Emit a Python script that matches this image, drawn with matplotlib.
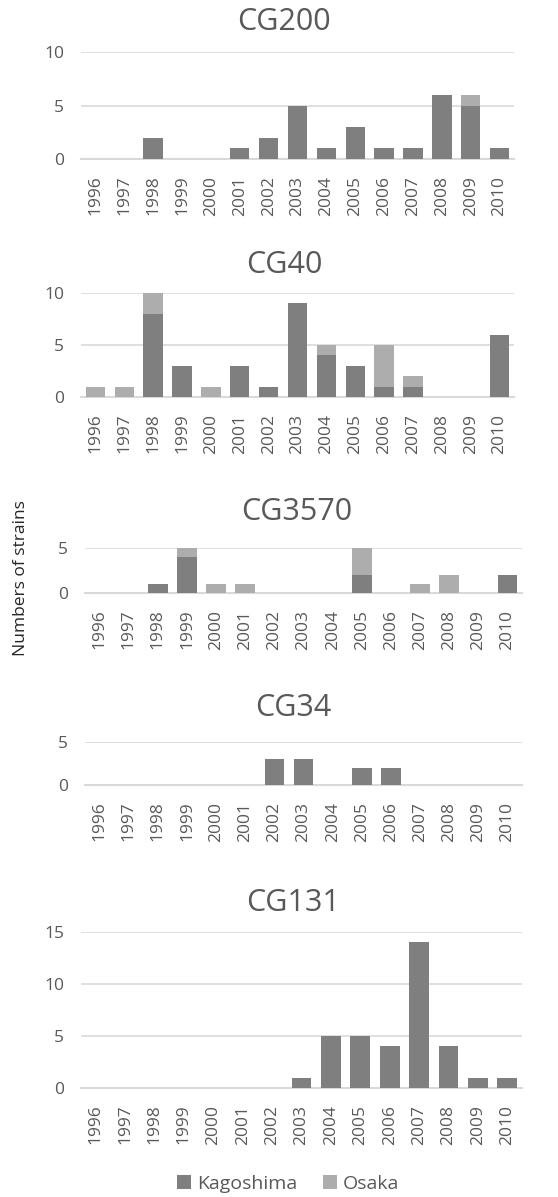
import matplotlib
matplotlib.use("Agg")
import matplotlib.pyplot as plt
from matplotlib.patches import Patch
import numpy as np

years = [str(y) for y in range(1996, 2011)]

titles = ["CG200", "CG40", "CG3570", "CG34", "CG131"]
kagoshima = {
    "CG200":  [0, 0, 2, 0, 0, 1, 2, 5, 1, 3, 1, 1, 6, 5, 1],
    "CG40":   [0, 0, 8, 3, 0, 3, 1, 9, 4, 3, 1, 1, 0, 0, 6],
    "CG3570": [0, 0, 1, 4, 0, 0, 0, 0, 0, 2, 0, 0, 0, 0, 2],
    "CG34":   [0, 0, 0, 0, 0, 0, 3, 3, 0, 2, 2, 0, 0, 0, 0],
    "CG131":  [0, 0, 0, 0, 0, 0, 0, 1, 5, 5, 4, 14, 4, 1, 1],
}
osaka = {
    "CG200":  [0, 0, 0, 0, 0, 0, 0, 0, 0, 0, 0, 0, 0, 1, 0],
    "CG40":   [1, 1, 2, 0, 1, 0, 0, 0, 1, 0, 4, 1, 0, 0, 0],
    "CG3570": [0, 0, 0, 1, 1, 1, 0, 0, 0, 3, 0, 1, 2, 0, 0],
    "CG34":   [0, 0, 0, 0, 0, 0, 0, 0, 0, 0, 0, 0, 0, 0, 0],
    "CG131":  [0, 0, 0, 0, 0, 0, 0, 0, 0, 0, 0, 0, 0, 0, 0],
}
ymax = {"CG200": 10, "CG40": 10, "CG3570": 5, "CG34": 5, "CG131": 15}

W, H = 558, 1197
DPI = 100
plt.rcParams['font.family'] = ['Open Sans', 'DejaVu Sans']

DARK = "#7f7f7f"
LIGHT = "#adadad"
GRID = "#d9d9d9"
TXT = "#595959"

fig = plt.figure(figsize=(W / DPI, H / DPI), dpi=DPI)

# pixel layout: (x0, x1, ytop, ybottom, title_x, title_y)
layout = {
    "CG200":  (81, 514, 52, 159, 284, 22),
    "CG40":   (81, 514, 293, 397, 284, 265),
    "CG3570": (85, 522, 548, 593, 297, 512),
    "CG34":   (85, 522, 742, 785, 293, 708),
    "CG131":  (81, 522, 932, 1088, 293, 903),
}

for name in titles:
    x0, x1, yt, yb, tx, ty = layout[name]
    ax = fig.add_axes([x0 / W, 1 - yb / H, (x1 - x0) / W, (yb - yt) / H])
    x = np.arange(len(years))
    k = np.array(kagoshima[name])
    o = np.array(osaka[name])
    ax.bar(x, k, width=0.67, color=DARK, linewidth=0, zorder=3)
    ax.bar(x, o, width=0.67, bottom=k, color=LIGHT, linewidth=0, zorder=3)
    ax.set_xlim(-0.5, len(years) - 0.5)
    ax.set_ylim(0, ymax[name])
    ax.set_yticks(np.arange(0, ymax[name] + 1, 5))
    ax.set_xticks(x)
    ax.set_xticklabels(years, rotation=90)
    for s in ax.spines.values():
        s.set_visible(False)
    ax.yaxis.grid(True, color=GRID, linewidth=1.2, zorder=0)
    ax.set_axisbelow(True)
    ax.tick_params(axis='both', length=0, colors=TXT, labelsize=12.5)
    ax.tick_params(axis='y', pad=12)
    ax.tick_params(axis='x', pad=12)
    ax.axhline(0, color=GRID, linewidth=1.5, zorder=2, clip_on=False)
    fig.text(tx / W, 1 - ty / H, name, ha='center', va='center', fontsize=22, color=TXT)

fig.text(21 / W, 1 - 578 / H, "Numbers of strains", rotation=90, ha='center', va='center',
         fontsize=12.5, color="#262626")

handles = [Patch(facecolor=DARK, label="Kagoshima"), Patch(facecolor=LIGHT, label="Osaka")]
leg = fig.legend(handles=handles, loc='center', bbox_to_anchor=(288 / W, 1 - 1184 / H), ncol=2,
                 frameon=False, fontsize=14, handlelength=0.75, handleheight=0.75,
                 handletextpad=0.3, columnspacing=1.3, labelcolor=TXT)

fig.savefig("out.png", dpi=DPI)
